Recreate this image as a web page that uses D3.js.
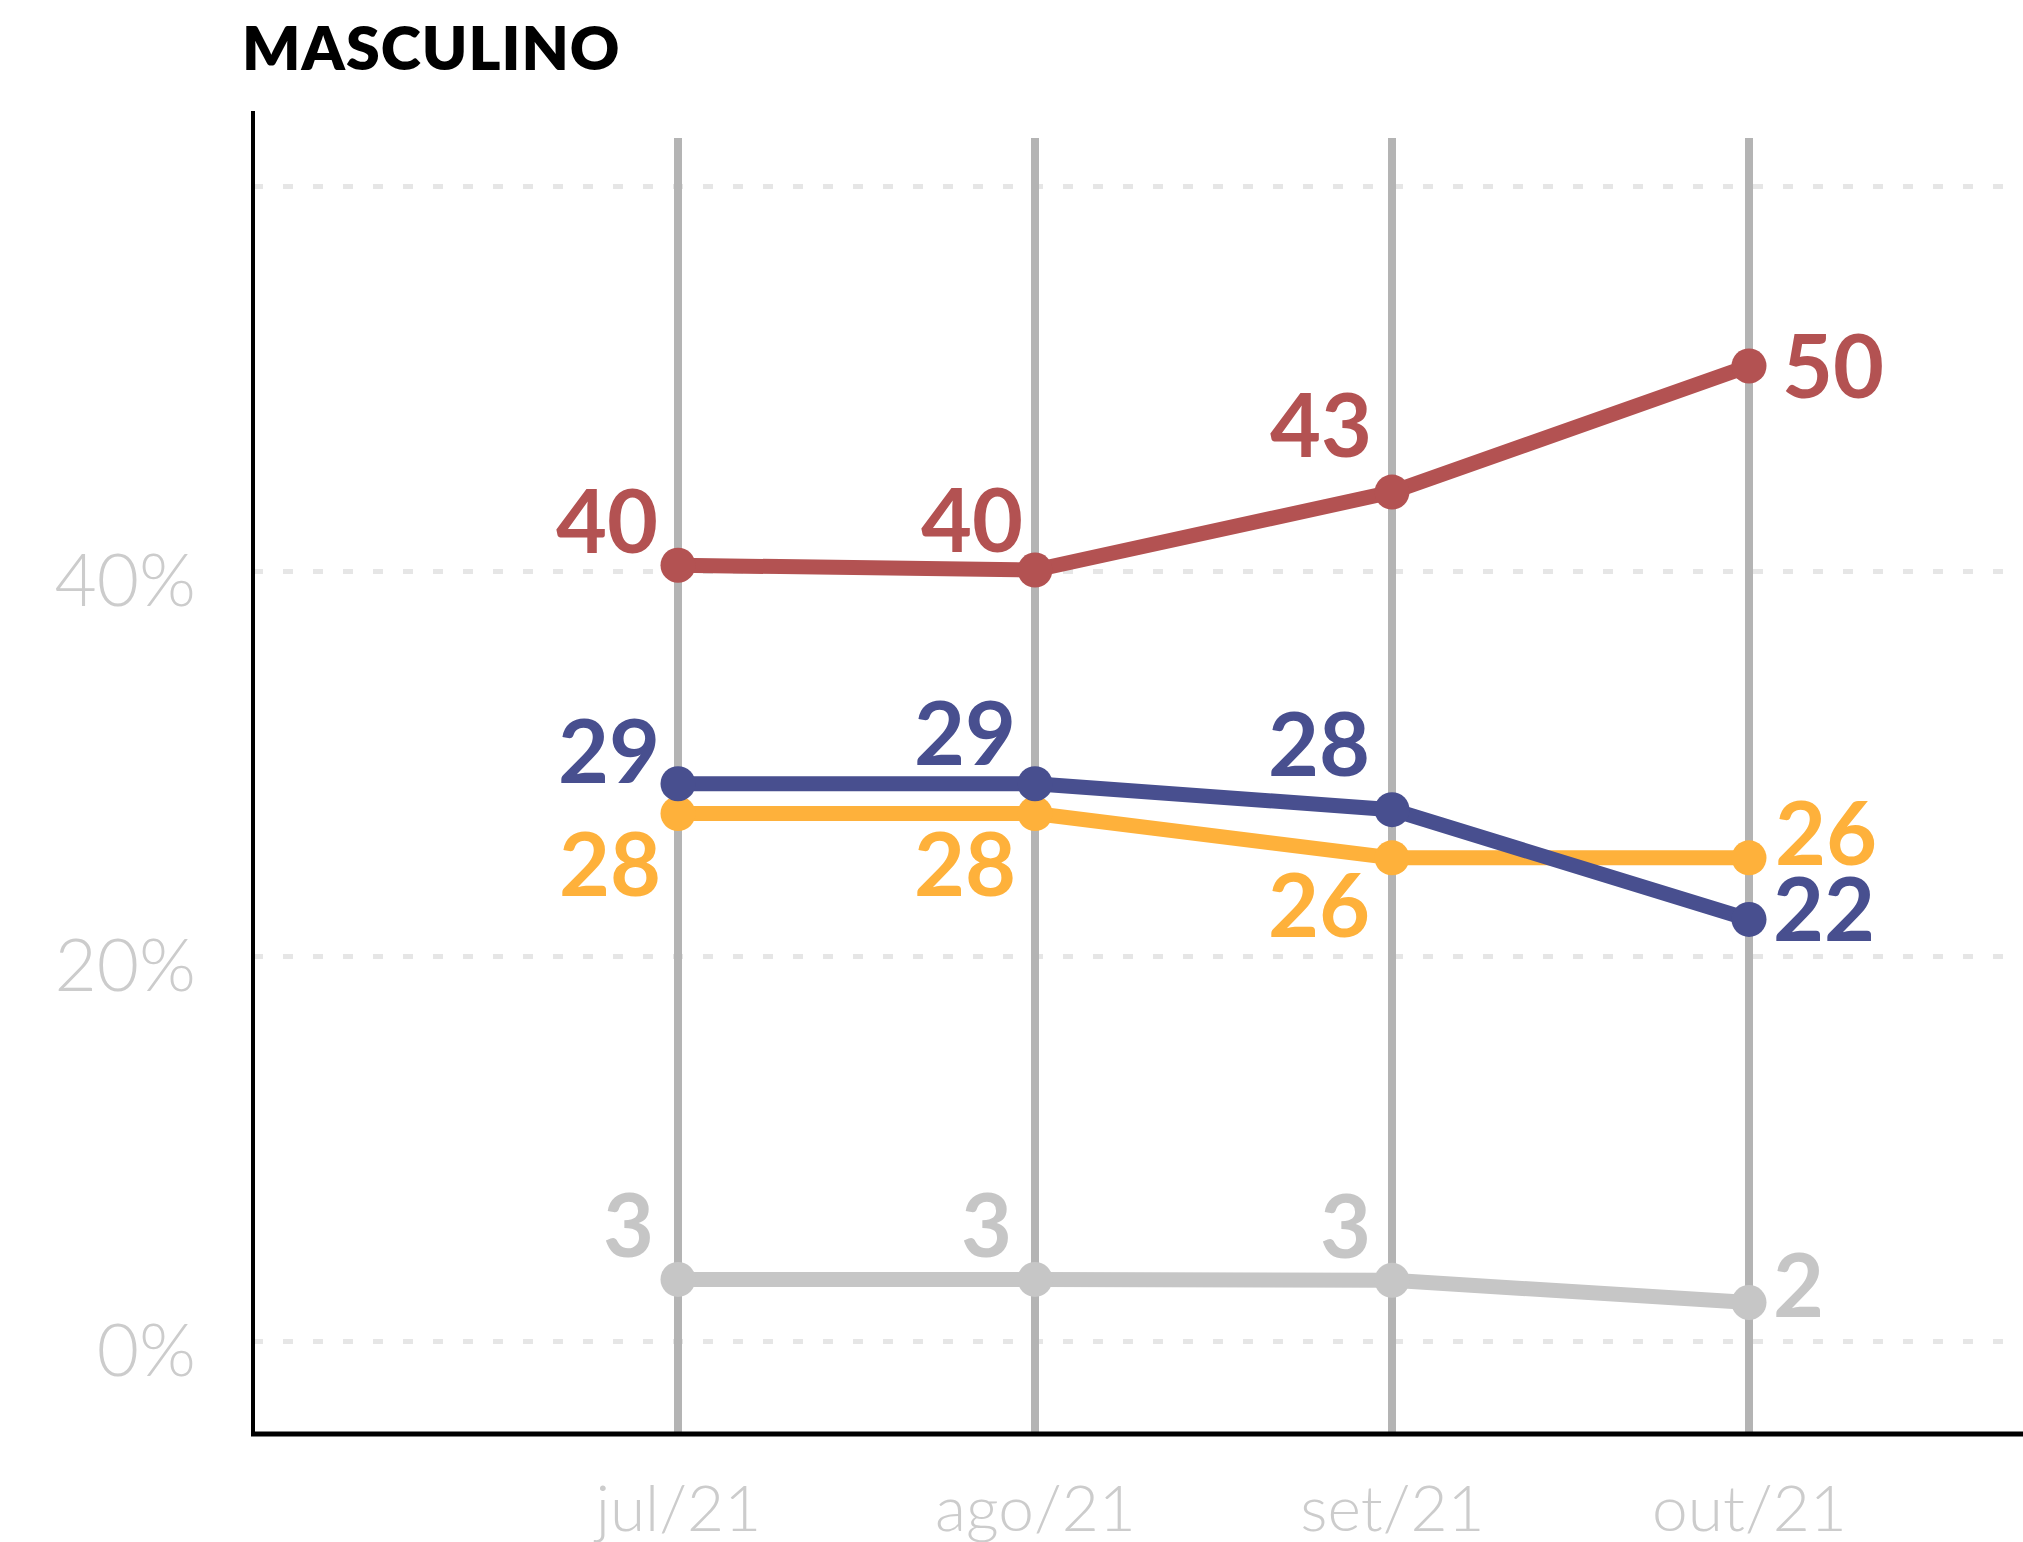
<!DOCTYPE html>
<html>
<head>
<meta charset="utf-8">
<script src="https://cdn.jsdelivr.net/npm/d3@7/dist/d3.min.js"></script>
<style>
  html, body { margin: 0; padding: 0; background: #fff; }
  svg { display: block; }
  text { font-family: Lato, "Open Sans", sans-serif; }
</style>
</head>
<body>
<svg width="2023" height="1542"></svg>
<script>
// data
const months = ['jul/21', 'ago/21', 'set/21', 'out/21'];
const yTicks = [0, 20, 40];
const gridTicks = [0, 20, 40, 60];

const redValues = [40.3, 40.05, 44.1, 50.65];
const navyValues = [28.95, 28.95, 27.6, 21.9];
const yellowValues = [27.4, 27.4, 25.1, 25.1];
const grayValues = [3.2, 3.2, 3.15, 2.0];

const redLabels = ['40', '40', '43', '50'];
const navyLabels = ['29', '29', '28', '22'];
const yellowLabels = ['28', '28', '26', '26'];
const grayLabels = ['3', '3', '3', '2'];

// label placement relative to its dot: [anchor, dx, dy(baseline)]
const redPlace = [['end', -20, -12], ['end', -12, -18], ['end', -20, -35], ['start', 33, 32]];
const navyPlace = [['end', -18, -1], ['end', -19, -19], ['end', -22, -34], ['start', 24, 22]];
const yellowPlace = [['end', -17, 82], ['end', -19, 82], ['end', -22, 79], ['start', 26, 7]];
const grayPlace = [['end', -24, -22], ['end', -23, -22], ['end', -21, -22], ['start', 24, 14]];

const series = [
  { name: 'gray', values: grayValues, labels: grayLabels, place: grayPlace, color: '#c6c6c6' },
  { name: 'yellow', values: yellowValues, labels: yellowLabels, place: yellowPlace, color: '#feb13b' },
  { name: 'navy', values: navyValues, labels: navyLabels, place: navyPlace, color: '#484f8f' },
  { name: 'red', values: redValues, labels: redLabels, place: redPlace, color: '#b35252' }
];

const svg = d3.select('svg');
const width = 2023;
const axisX = 253;
const axisBottomY = 1434;

// scales
const xScale = d3.scalePoint()
  .domain(months)
  .range([678, 1749]);
const yScale = d3.scaleLinear()
  .domain([0, 60])
  .range([1341, 186]);

// title
svg.append('text')
  .attr('x', 242)
  .attr('y', 70)
  .style('font-size', '61px')
  .style('font-weight', 800)
  .style('letter-spacing', '1px')
  .attr('fill', '#000')
  .text('MASCULINO');

// dashed gridlines
const grid = svg.append('g')
  .attr('transform', 'translate(' + axisX + ',0)')
  .call(d3.axisRight(yScale).tickValues(gridTicks).tickSize(width - axisX).tickFormat(''));
grid.select('.domain').remove();
grid.selectAll('line')
  .attr('stroke', '#e6e6e6')
  .attr('stroke-width', 5)
  .attr('stroke-dasharray', '10,20');

// y tick labels
const gY = svg.append('g')
  .attr('transform', 'translate(196,0)')
  .call(d3.axisLeft(yScale).tickValues(yTicks).tickSize(0).tickPadding(0).tickFormat(function(d) { return d + '%'; }));
gY.select('.domain').remove();
gY.selectAll('text')
  .attr('dy', null)
  .attr('y', 34)
  .attr('fill', '#cccccc')
  .style('font-size', '73px')
  .style('font-weight', 300)
  .style('font-family', 'Lato, sans-serif');

// vertical month lines
svg.append('g')
  .selectAll('line')
  .data(months)
  .enter().append('line')
  .attr('x1', function(d) { return xScale(d); })
  .attr('x2', function(d) { return xScale(d); })
  .attr('y1', 138)
  .attr('y2', axisBottomY)
  .attr('stroke', '#b4b4b4')
  .attr('stroke-width', 8);

// axes lines
svg.append('line')
  .attr('x1', axisX).attr('x2', axisX)
  .attr('y1', 111).attr('y2', axisBottomY + 2)
  .attr('stroke', '#000').attr('stroke-width', 4);
svg.append('line')
  .attr('x1', axisX - 2).attr('x2', width)
  .attr('y1', axisBottomY).attr('y2', axisBottomY)
  .attr('stroke', '#000').attr('stroke-width', 5);

// x tick labels
const gX = svg.append('g')
  .attr('transform', 'translate(0,' + axisBottomY + ')')
  .call(d3.axisBottom(xScale).tickSize(0).tickPadding(0));
gX.select('.domain').remove();
gX.selectAll('text')
  .attr('dy', null)
  .attr('y', 97)
  .attr('fill', '#cccccc')
  .style('font-size', '64px')
  .style('font-weight', 300)
  .style('font-family', 'Lato, sans-serif');

// lines, dots and value labels
const line = d3.line()
  .x(function(d, i) { return xScale(months[i]); })
  .y(function(d) { return yScale(d); });

const sG = svg.selectAll('.series')
  .data(series)
  .enter().append('g')
  .attr('class', 'series');

sG.append('path')
  .attr('d', function(s) { return line(s.values); })
  .attr('fill', 'none')
  .attr('stroke', function(s) { return s.color; })
  .attr('stroke-width', 15);

sG.selectAll('circle')
  .data(function(s) { return s.values.map(function(v, i) { return { v: v, i: i, s: s }; }); })
  .enter().append('circle')
  .attr('cx', function(d) { return xScale(months[d.i]); })
  .attr('cy', function(d) { return yScale(d.v); })
  .attr('r', 17.5)
  .attr('fill', function(d) { return d.s.color; });

sG.selectAll('text')
  .data(function(s) { return s.values.map(function(v, i) { return { v: v, i: i, s: s }; }); })
  .enter().append('text')
  .attr('x', function(d) { return xScale(months[d.i]) + d.s.place[d.i][1]; })
  .attr('y', function(d) { return yScale(d.v) + d.s.place[d.i][2]; })
  .attr('text-anchor', function(d) { return d.s.place[d.i][0]; })
  .attr('fill', function(d) { return d.s.color; })
  .style('font-size', '88px')
  .style('font-weight', 700)
  .text(function(d) { return d.s.labels[d.i]; });
</script>
</body>
</html>
